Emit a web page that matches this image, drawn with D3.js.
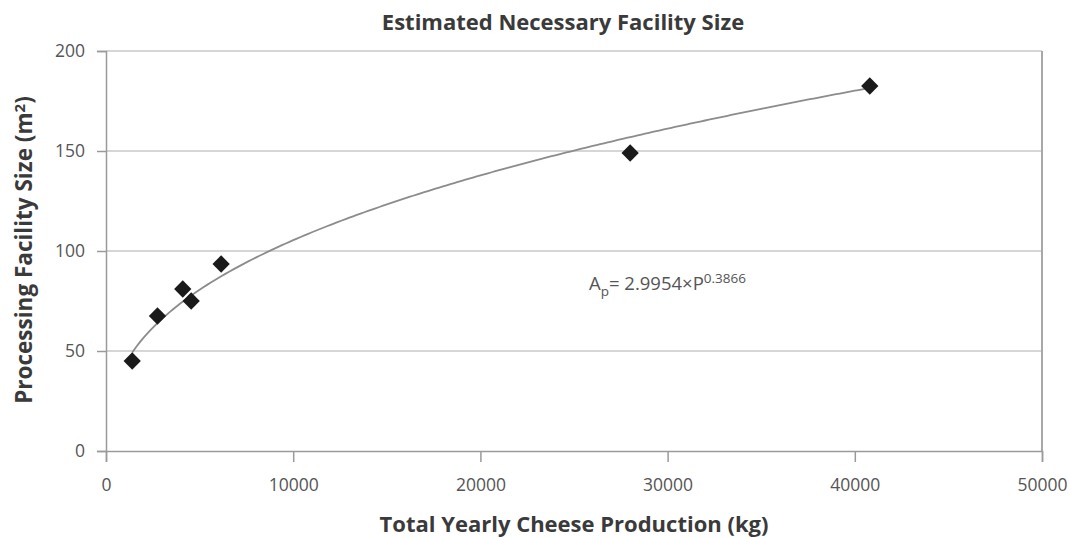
<!DOCTYPE html>
<html>
<head>
<meta charset="utf-8">
<script src="https://cdn.jsdelivr.net/npm/d3@7"></script>
<style>
  body { margin: 0; background: #fff; }
  text { font-family: "Open Sans", sans-serif; }
</style>
</head>
<body>
<div id="chart"></div>
<script>
// production (kg) vs facility size (m2)
const production = [1400, 2750, 4100, 4550, 6150, 28000, 40800];
const facility = [45, 67.5, 81, 75, 93.5, 149, 182.5];
const xTicks = [0, 10000, 20000, 30000, 40000, 50000];
const yTicks = [0, 50, 100, 150, 200];
// trendline as printed on the chart: A = 2.9954 * P^0.3866
const coef = 2.9954;
const expo = 0.3866;

const width = 1070, height = 537;
const margin = { left: 106, right: 28, top: 51, bottom: 86 };

const svg = d3.select("#chart").append("svg")
  .attr("width", width)
  .attr("height", height);

const x = d3.scaleLinear().domain([0, 50000]).range([margin.left, width - margin.right]);
const y = d3.scaleLinear().domain([0, 200]).range([height - margin.bottom, margin.top]);

// gridlines
svg.append("g")
  .selectAll("line")
  .data(yTicks.slice(1))
  .enter().append("line")
  .attr("x1", x(0)).attr("x2", x(50000))
  .attr("y1", d => y(d)).attr("y2", d => y(d))
  .attr("stroke", "#c8c8c8")
  .attr("stroke-width", 1.5);

// right border
svg.append("line")
  .attr("x1", x(50000)).attr("x2", x(50000))
  .attr("y1", y(200)).attr("y2", y(0))
  .attr("stroke", "#a8a8a8")
  .attr("stroke-width", 2);

const yAxis = svg.append("g")
  .attr("transform", `translate(${x(0)},0)`)
  .call(d3.axisLeft(y).tickValues(yTicks).tickSize(9).tickPadding(12));

const xAxis = svg.append("g")
  .attr("transform", `translate(0,${y(0)})`)
  .call(d3.axisBottom(x).tickValues(xTicks).tickFormat(d3.format("d")).tickSize(11).tickPadding(17));

[xAxis, yAxis].forEach(g => {
  g.select(".domain").attr("stroke", "#9a9a9a").attr("stroke-width", 1.5);
  g.selectAll(".tick line").attr("stroke", "#9a9a9a").attr("stroke-width", 1.5);
  g.selectAll(".tick text")
    .attr("fill", "#555")
    .style("font-size", "17.5px")
    .style("font-family", "'Open Sans', sans-serif");
});

// trendline
const curvePts = d3.range(1400, 40801, 200).map(p => [p, coef * Math.pow(p, expo)]);
svg.append("path")
  .datum(curvePts)
  .attr("fill", "none")
  .attr("stroke", "#8c8c8c")
  .attr("stroke-width", 1.8)
  .attr("d", d3.line().x(d => x(d[0])).y(d => y(d[1])));

// diamond markers
svg.append("g")
  .selectAll("path")
  .data(production)
  .enter().append("path")
  .attr("d", d3.symbol().type(d3.symbolDiamond2).size(190))
  .attr("transform", (d, i) => `translate(${x(d)},${y(facility[i])})`)
  .attr("fill", "#1a1a1a");

// equation
const eq = svg.append("text")
  .attr("x", 589).attr("y", 290)
  .attr("fill", "#555")
  .style("font-size", "18.5px");
eq.append("tspan").text("A");
eq.append("tspan").attr("dy", 6).style("font-size", "13.5px").text("p");
eq.append("tspan").attr("dy", -6).text("= 2.9954×P");
eq.append("tspan").attr("dy", -7).style("font-size", "13.5px").text("0.3866");

// title + axis labels
svg.append("text")
  .attr("x", 563).attr("y", 30)
  .attr("text-anchor", "middle")
  .attr("fill", "#3a3a3a")
  .style("font-size", "22px")
  .style("font-weight", "bold")
  .text("Estimated Necessary Facility Size");

svg.append("text")
  .attr("x", 574).attr("y", 532)
  .attr("text-anchor", "middle")
  .attr("fill", "#3a3a3a")
  .style("font-size", "22px")
  .style("font-weight", "bold")
  .text("Total Yearly Cheese Production (kg)");

const yl = svg.append("text")
  .attr("transform", `translate(32,${y(100) - 1}) rotate(-90)`)
  .attr("text-anchor", "middle")
  .attr("fill", "#3a3a3a")
  .style("font-size", "22.5px")
  .style("font-weight", "bold");
yl.append("tspan").text("Processing Facility Size (m");
yl.append("tspan").attr("dy", -7).style("font-size", "15px").text("2");
yl.append("tspan").attr("dy", 7).text(")");
</script>
</body>
</html>
